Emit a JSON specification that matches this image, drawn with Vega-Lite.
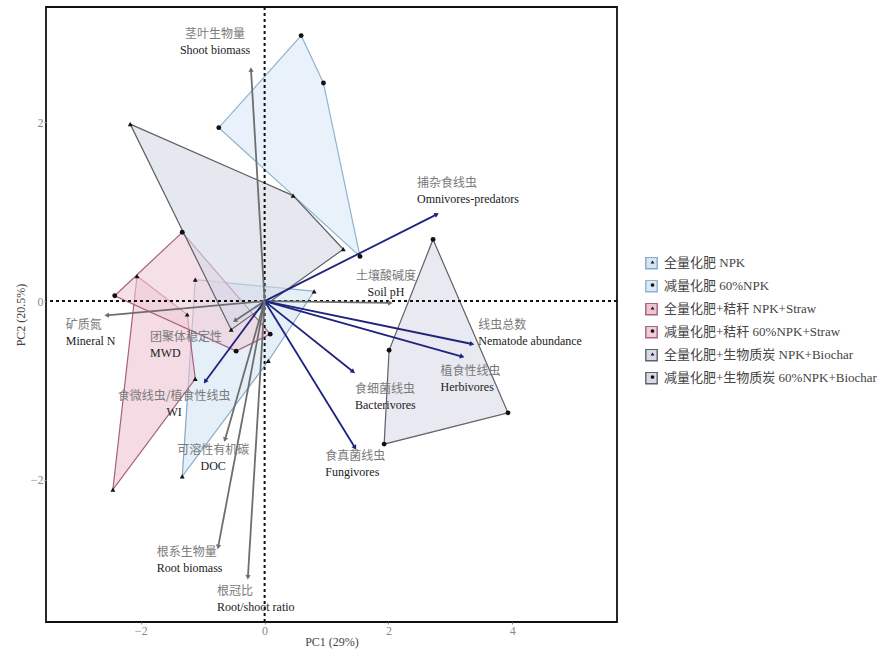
{
  "$schema": "https://vega.github.io/schema/vega-lite/v6.json",
  "width": 571,
  "height": 615,
  "autosize": {"type": "none"},
  "padding": {"left": 46, "top": 7, "right": 265, "bottom": 28},
  "background": "white",
  "config": {
    "font": "Liberation Serif, Noto Sans CJK SC",
    "view": {"stroke": "#111", "strokeWidth": 1.8},
    "axis": {
      "grid": false,
      "domain": false,
      "labelFont": "Liberation Serif",
      "labelFontSize": 12,
      "labelColor": "#8a8a8a",
      "tickColor": "#8a8a8a",
      "tickSize": 2,
      "labelPadding": 1,
      "format": "d",
      "titleFont": "Liberation Serif",
      "titleFontSize": 12,
      "titleFontWeight": "normal",
      "titleColor": "#444"
    }
  },
  "datasets": {
    "scores": [
      {"treatment": "全量化肥 NPK", "k": 1, "pc1": -1.12, "pc2": 0.24},
      {"treatment": "全量化肥 NPK", "k": 2, "pc1": 0.80, "pc2": 0.11},
      {"treatment": "全量化肥 NPK", "k": 3, "pc1": 0.06, "pc2": -0.67},
      {"treatment": "全量化肥 NPK", "k": 4, "pc1": -1.33, "pc2": -1.96},
      {"treatment": "减量化肥 60%NPK", "k": 1, "pc1": 0.59, "pc2": 2.97},
      {"treatment": "减量化肥 60%NPK", "k": 2, "pc1": 0.95, "pc2": 2.44},
      {"treatment": "减量化肥 60%NPK", "k": 3, "pc1": 1.54, "pc2": 0.50},
      {"treatment": "减量化肥 60%NPK", "k": 4, "pc1": -0.74, "pc2": 1.94},
      {"treatment": "全量化肥+秸秆 NPK+Straw", "k": 1, "pc1": -2.06, "pc2": 0.28},
      {"treatment": "全量化肥+秸秆 NPK+Straw", "k": 2, "pc1": -1.25, "pc2": -0.15},
      {"treatment": "全量化肥+秸秆 NPK+Straw", "k": 3, "pc1": -1.12, "pc2": -0.87},
      {"treatment": "全量化肥+秸秆 NPK+Straw", "k": 4, "pc1": -2.45, "pc2": -2.11},
      {"treatment": "减量化肥+秸秆 60%NPK+Straw", "k": 1, "pc1": -2.42, "pc2": 0.06},
      {"treatment": "减量化肥+秸秆 60%NPK+Straw", "k": 2, "pc1": -1.33, "pc2": 0.77},
      {"treatment": "减量化肥+秸秆 60%NPK+Straw", "k": 3, "pc1": 0.09, "pc2": -0.37},
      {"treatment": "减量化肥+秸秆 60%NPK+Straw", "k": 4, "pc1": -0.46, "pc2": -0.56},
      {"treatment": "全量化肥+生物质炭 NPK+Biochar", "k": 1, "pc1": -2.17, "pc2": 1.98},
      {"treatment": "全量化肥+生物质炭 NPK+Biochar", "k": 2, "pc1": 0.46, "pc2": 1.18},
      {"treatment": "全量化肥+生物质炭 NPK+Biochar", "k": 3, "pc1": 1.27, "pc2": 0.58},
      {"treatment": "全量化肥+生物质炭 NPK+Biochar", "k": 4, "pc1": -0.54, "pc2": -0.32},
      {"treatment": "减量化肥+生物质炭 60%NPK+Biochar", "k": 1, "pc1": 2.72, "pc2": 0.69},
      {"treatment": "减量化肥+生物质炭 60%NPK+Biochar", "k": 2, "pc1": 3.93, "pc2": -1.25},
      {"treatment": "减量化肥+生物质炭 60%NPK+Biochar", "k": 3, "pc1": 1.93, "pc2": -1.60},
      {"treatment": "减量化肥+生物质炭 60%NPK+Biochar", "k": 4, "pc1": 2.01, "pc2": -0.55}
    ],
    "loadings": [
      {"cn": "茎叶生物量", "en": "Shoot biomass", "grp": "plant", "pc1": -0.22, "pc2": 2.59, "lx": -0.80, "ly": 2.90},
      {"cn": "捕杂食线虫", "en": "Omnivores-predators", "grp": "nematode", "pc1": 2.78, "pc2": 0.97, "lx": 2.46, "ly": 1.23},
      {"cn": "土壤酸碱度", "en": "Soil pH", "grp": "soil", "pc1": 2.03, "pc2": -0.02, "lx": 1.96, "ly": 0.19},
      {"cn": "线虫总数", "en": "Nematode abundance", "grp": "nematode", "pc1": 3.35, "pc2": -0.48, "lx": 3.45, "ly": -0.36},
      {"cn": "植食性线虫", "en": "Herbivores", "grp": "nematode", "pc1": 3.19, "pc2": -0.62, "lx": 2.84, "ly": -0.875},
      {"cn": "食细菌线虫", "en": "Bacterivores", "grp": "nematode", "pc1": 1.43, "pc2": -0.79, "lx": 1.46, "ly": -1.07},
      {"cn": "食真菌线虫", "en": "Fungivores", "grp": "nematode", "pc1": 1.46, "pc2": -1.64, "lx": 0.98, "ly": -1.825},
      {"cn": "矿质氮", "en": "Mineral N", "grp": "soil", "pc1": -2.55, "pc2": -0.16, "lx": -3.21, "ly": -0.36},
      {"cn": "团聚体稳定性", "en": "MWD", "grp": "soil", "pc1": -0.48, "pc2": -0.22, "lx": -1.85, "ly": -0.49},
      {"cn": "食微线虫/植食性线虫", "en": "WI", "grp": "nematode", "pc1": -0.96, "pc2": -0.90, "lx": -1.46, "ly": -1.15},
      {"cn": "可溶性有机碳", "en": "DOC", "grp": "soil", "pc1": -0.64, "pc2": -1.55, "lx": -0.83, "ly": -1.76},
      {"cn": "根系生物量", "en": "Root biomass", "grp": "plant", "pc1": -0.75, "pc2": -2.75, "lx": -1.74, "ly": -2.90},
      {"cn": "根冠比", "en": "Root/shoot ratio", "grp": "plant", "pc1": -0.27, "pc2": -3.09, "lx": -0.77, "ly": -3.33}
    ]
  },
  "layer": [
    {
      "description": "Treatment hulls: closed outline around each treatment's sample scores",
      "data": {"name": "scores"},
      "mark": {"type": "line", "interpolate": "linear-closed", "strokeWidth": 1.2, "fillOpacity": 0.6},
      "encoding": {
        "x": {
          "field": "pc1", "type": "quantitative",
          "scale": {"domain": [-3.53, 5.69], "nice": false, "zero": false},
          "axis": {"values": [-2, 0, 2, 4], "title": "PC1 (29%)", "titlePadding": 0}
        },
        "y": {
          "field": "pc2", "type": "quantitative",
          "scale": {"domain": [-3.59, 3.29], "nice": false, "zero": false},
          "axis": {"values": [-2, 0, 2], "title": "PC2 (20.5%)", "titlePadding": 3}
        },
        "order": {"field": "k"},
        "fill": {
          "field": "treatment", "type": "nominal",
          "scale": {
            "domain": ["全量化肥 NPK", "减量化肥 60%NPK", "全量化肥+秸秆 NPK+Straw", "减量化肥+秸秆 60%NPK+Straw", "全量化肥+生物质炭 NPK+Biochar", "减量化肥+生物质炭 60%NPK+Biochar"],
            "range": ["#d3e4f3", "#dbe9f6", "#efc3d1", "#f0ccd8", "#d6d9e6", "#d8dbe7"]
          },
          "legend": {
            "orient": "none", "legendX": 599, "legendY": 250, "title": null,
            "symbolType": "square", "symbolSize": 130, "symbolStrokeWidth": 1.4, "symbolOpacity": 1,
            "clipHeight": 12, "rowPadding": 10,
            "labelFontSize": 13, "labelColor": "#444", "labelOffset": 6, "labelLimit": 400
          }
        },
        "stroke": {
          "field": "treatment", "type": "nominal",
          "scale": {
            "domain": ["全量化肥 NPK", "减量化肥 60%NPK", "全量化肥+秸秆 NPK+Straw", "减量化肥+秸秆 60%NPK+Straw", "全量化肥+生物质炭 NPK+Biochar", "减量化肥+生物质炭 60%NPK+Biochar"],
            "range": ["#86a9c6", "#8db3d0", "#a7627f", "#a7627f", "#5f5f66", "#5f5f66"]
          },
          "legend": {
            "orient": "none", "legendX": 599, "legendY": 250, "title": null,
            "symbolType": "square", "symbolSize": 130, "symbolStrokeWidth": 1.4, "symbolOpacity": 1,
            "clipHeight": 12, "rowPadding": 10,
            "labelFontSize": 13, "labelColor": "#444", "labelOffset": 6, "labelLimit": 400
          }
        }
      }
    },
    {
      "description": "Dashed zero reference lines",
      "data": {"values": [{}]},
      "mark": {"type": "rule", "strokeDash": [3, 3], "strokeWidth": 2, "color": "#111"},
      "encoding": {"y": {"datum": 0}}
    },
    {
      "data": {"values": [{}]},
      "mark": {"type": "rule", "strokeDash": [3, 3], "strokeWidth": 2, "color": "#111"},
      "encoding": {"x": {"datum": 0}}
    },
    {
      "description": "Loading vectors from the origin",
      "data": {"name": "loadings"},
      "mark": {"type": "rule", "strokeWidth": 1.8},
      "encoding": {
        "x": {"field": "pc1", "type": "quantitative"},
        "y": {"field": "pc2", "type": "quantitative"},
        "x2": {"datum": 0},
        "y2": {"datum": 0},
        "color": {"field": "grp", "type": "nominal", "scale": {"domain": ["nematode", "soil", "plant"], "range": ["#1e237e", "#6e6e6e", "#6e6e6e"]}, "legend": null}
      }
    },
    {
      "description": "Arrowheads turned along each vector",
      "data": {"name": "loadings"},
      "transform": [{"calculate": "atan2(datum.pc1 * 61.9, datum.pc2 * 89.5) * 180 / PI", "as": "heading"}],
      "mark": {"type": "point", "shape": "triangle-up", "filled": true, "size": 28, "opacity": 1},
      "encoding": {
        "x": {"field": "pc1", "type": "quantitative"},
        "y": {"field": "pc2", "type": "quantitative"},
        "angle": {"field": "heading", "type": "quantitative", "scale": null},
        "color": {"field": "grp", "type": "nominal", "scale": {"domain": ["nematode", "soil", "plant"], "range": ["#1e237e", "#6e6e6e", "#6e6e6e"]}, "legend": null}
      }
    },
    {
      "description": "Sample scores; the small marker legend sits inside the hull legend squares",
      "data": {"name": "scores"},
      "mark": {"type": "point", "filled": true, "size": 24, "opacity": 1, "color": "#111"},
      "encoding": {
        "x": {"field": "pc1", "type": "quantitative"},
        "y": {"field": "pc2", "type": "quantitative"},
        "shape": {
          "field": "treatment", "type": "nominal",
          "sort": ["全量化肥 NPK", "减量化肥 60%NPK", "全量化肥+秸秆 NPK+Straw", "减量化肥+秸秆 60%NPK+Straw", "全量化肥+生物质炭 NPK+Biochar", "减量化肥+生物质炭 60%NPK+Biochar"],
          "scale": {"range": ["triangle-up", "circle", "triangle-up", "circle", "triangle-up", "circle"]},
          "legend": {
            "orient": "none", "legendX": 600, "legendY": 249, "title": null,
            "symbolSize": 14, "symbolFillColor": "#111", "symbolStrokeColor": "#111", "symbolStrokeWidth": 0,
            "clipHeight": 12, "rowPadding": 10,
            "labelFontSize": 13, "labelExpr": "''", "labelOffset": 0
          }
        }
      }
    },
    {
      "description": "Variable names, left-aligned: Chinese line",
      "data": {"name": "loadings"},
      "transform": [{"filter": "indexof(['Shoot biomass', 'Soil pH', 'WI', 'DOC'], datum.en) < 0"}],
      "mark": {"type": "text", "align": "left", "baseline": "middle", "dy": -8, "fontSize": 12, "color": "#7a7a7a", "font": "Noto Sans CJK SC"},
      "encoding": {
        "x": {"field": "lx", "type": "quantitative"},
        "y": {"field": "ly", "type": "quantitative"},
        "text": {"field": "cn"}
      }
    },
    {
      "description": "Variable names, left-aligned: English line",
      "data": {"name": "loadings"},
      "transform": [{"filter": "indexof(['Shoot biomass', 'Soil pH', 'WI', 'DOC'], datum.en) < 0"}],
      "mark": {"type": "text", "align": "left", "baseline": "middle", "dy": 8, "fontSize": 12, "color": "#222", "font": "Liberation Serif"},
      "encoding": {
        "x": {"field": "lx", "type": "quantitative"},
        "y": {"field": "ly", "type": "quantitative"},
        "text": {"field": "en"}
      }
    },
    {
      "description": "Variable names, centred: Chinese line",
      "data": {"name": "loadings"},
      "transform": [{"filter": "indexof(['Shoot biomass', 'Soil pH', 'WI', 'DOC'], datum.en) >= 0"}],
      "mark": {"type": "text", "align": "center", "baseline": "middle", "dy": -8, "fontSize": 12, "color": "#7a7a7a", "font": "Noto Sans CJK SC"},
      "encoding": {
        "x": {"field": "lx", "type": "quantitative"},
        "y": {"field": "ly", "type": "quantitative"},
        "text": {"field": "cn"}
      }
    },
    {
      "description": "Variable names, centred: English line",
      "data": {"name": "loadings"},
      "transform": [{"filter": "indexof(['Shoot biomass', 'Soil pH', 'WI', 'DOC'], datum.en) >= 0"}],
      "mark": {"type": "text", "align": "center", "baseline": "middle", "dy": 8, "fontSize": 12, "color": "#222", "font": "Liberation Serif"},
      "encoding": {
        "x": {"field": "lx", "type": "quantitative"},
        "y": {"field": "ly", "type": "quantitative"},
        "text": {"field": "en"}
      }
    }
  ]
}
